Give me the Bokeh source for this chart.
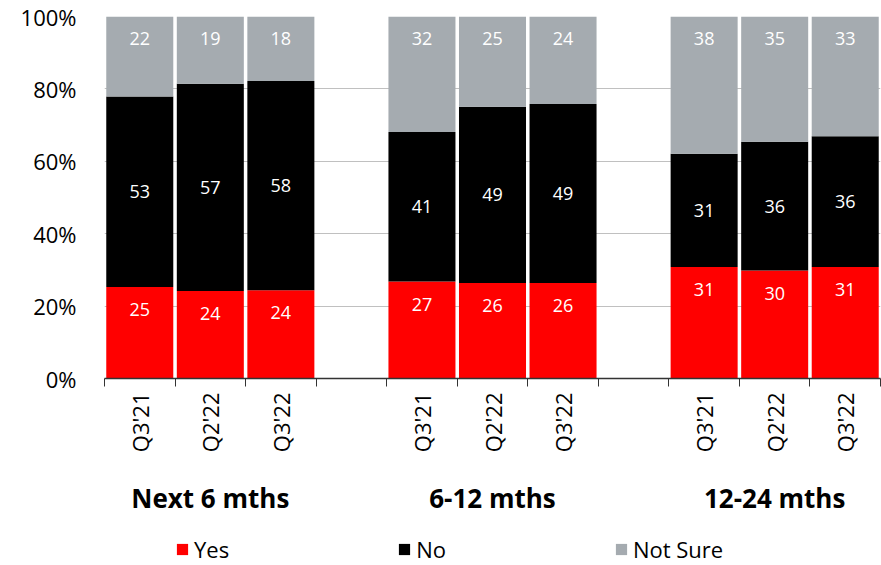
import math
from bokeh.plotting import figure
from bokeh.layouts import column
from bokeh.models import (ColumnDataSource, FixedTicker, LinearAxis, Legend, LegendItem,
                          Range1d)
from bokeh.core.properties import value
from bokeh.embed import file_html
from bokeh.resources import INLINE

# ---- data ----
groups = ["Next 6 mths", "6-12 mths", "12-24 mths"]
periods = ["Q3'21", "Q2'22", "Q3'22"]
yes = [25.3, 24.2, 24.4, 26.8, 26.4, 26.4, 30.8, 29.8, 30.8]
no = [52.6, 57.2, 57.8, 41.3, 48.7, 49.4, 31.3, 35.6, 36.1]
not_sure = [22.1, 18.6, 17.8, 31.9, 24.9, 24.2, 37.9, 34.6, 33.1]
series = ["Yes", "No", "Not Sure"]
y_ticks = [0, 20, 40, 60, 80, 100]

RED = "#ff0000"
BLACK = "#000000"
GREY = "#a5abb0"
COLORS = [RED, BLACK, GREY]
FONT = "Open Sans"

# positions: 3 bars per group, one empty slot between groups
xs = []
cat_labels = []
for gi, g in enumerate(groups):
    for pi, per in enumerate(periods):
        xs.append(gi * 4 + pi + 0.5)
        cat_labels.append(per)
group_centers = [gi * 4 + 1.5 for gi in range(len(groups))]
n_slots = len(groups) * 4 - 1

src = ColumnDataSource(dict(x=xs, yes=yes, no=no, not_sure=not_sure))

p = figure(width=881, height=522, output_backend="svg", toolbar_location=None,
           x_range=Range1d(0, n_slots), y_range=Range1d(0, 100),
           min_border_left=104, min_border_right=1, min_border_top=16,
           min_border_bottom=144)
p.outline_line_color = None
p.background_fill_color = "white"

renderers = p.vbar_stack(["yes", "no", "not_sure"], x="x", width=0.95, source=src,
                         color=COLORS, line_color=None)

# data labels
lab_x, lab_y, lab_t = [], [], []
for i in range(len(xs)):
    lab_x += [xs[i], xs[i], xs[i]]
    lab_y += [yes[i] - 6.3, yes[i] + no[i] / 2, yes[i] + no[i] + not_sure[i] - 6.1]
    lab_t += [str(int(round(yes[i]))), str(int(round(no[i]))), str(int(round(not_sure[i])))]
lsrc = ColumnDataSource(dict(x=lab_x, y=lab_y, t=lab_t))
p.text(x="x", y="y", text="t", source=lsrc, text_color="white",
       text_font=value(FONT), text_font_size="18px", text_align="center",
       text_baseline="middle")

# y axis
p.yaxis.ticker = FixedTicker(ticks=y_ticks)
p.yaxis.major_label_overrides = {t: f"{t}%" for t in y_ticks}
p.yaxis.axis_line_color = None
p.yaxis.major_tick_line_color = None
p.yaxis.minor_tick_line_color = None
p.yaxis.major_label_text_font = FONT
p.yaxis.major_label_text_font_size = "22px"
p.yaxis.major_label_text_color = "black"
p.yaxis.major_label_standoff = 22

p.ygrid.ticker = FixedTicker(ticks=y_ticks)
p.ygrid.grid_line_color = "#c0c0c0"
p.ygrid.grid_line_width = 1
p.xgrid.grid_line_color = None

# x axis: category labels, ticks at slot boundaries
xa = p.xaxis[0]
xa.ticker = FixedTicker(ticks=xs, minor_ticks=list(range(n_slots + 1)))
xa.major_label_overrides = {x: l for x, l in zip(xs, cat_labels)}
xa.major_label_orientation = math.pi / 2
xa.major_tick_line_color = None
xa.major_tick_out = 8
xa.major_tick_in = 0
xa.minor_tick_out = 8
xa.minor_tick_in = 0
xa.minor_tick_line_color = "#333333"
xa.minor_tick_line_width = 1
xa.axis_line_color = "#333333"
xa.axis_line_width = 1.5
xa.major_label_text_font = FONT
xa.major_label_text_font_size = "22px"
xa.major_label_text_color = "black"
xa.major_label_standoff = 6

# group axis
ga = LinearAxis(ticker=FixedTicker(ticks=group_centers),
                major_label_overrides={c: g for c, g in zip(group_centers, groups)})
ga.axis_line_color = None
ga.major_tick_line_color = None
ga.minor_tick_line_color = None
ga.major_label_text_font = FONT
ga.major_label_text_font_style = "bold"
ga.major_label_text_font_size = "26px"
ga.major_label_text_color = "black"
ga.major_label_standoff = 18
p.add_layout(ga, "below")

# legend in its own strip below the chart (frame aligned with the chart's frame)
lf = figure(width=881, height=43, output_backend="svg", toolbar_location=None,
            x_range=Range1d(0, 1), y_range=Range1d(0, 1),
            x_axis_location=None, y_axis_location=None,
            min_border_left=0, min_border_right=0, min_border_top=0, min_border_bottom=0)
lf.outline_line_color = None
lf.xgrid.grid_line_color = None
lf.ygrid.grid_line_color = None
# legend-only renderers (zero height, so nothing is drawn in the strip itself)
dummy = [lf.vbar(x=[-5], top=[0], width=0.1, color=c, line_color=None) for c in COLORS]
legend = Legend(items=[LegendItem(label=s, renderers=[r]) for s, r in zip(series, dummy)],
                orientation="horizontal", location=(71, 1))
legend.glyph_width = 14
legend.glyph_height = 14
legend.label_standoff = 5
legend.spacing = 168
legend.padding = 0
legend.margin = 0
legend.border_line_color = None
legend.background_fill_alpha = 0
legend.label_text_font = FONT
legend.label_text_font_size = "22px"
legend.label_text_color = "black"
lf.add_layout(legend, "center")

layout = column(p, lf, spacing=0)
open("out.html", "w").write(file_html(layout, INLINE))
